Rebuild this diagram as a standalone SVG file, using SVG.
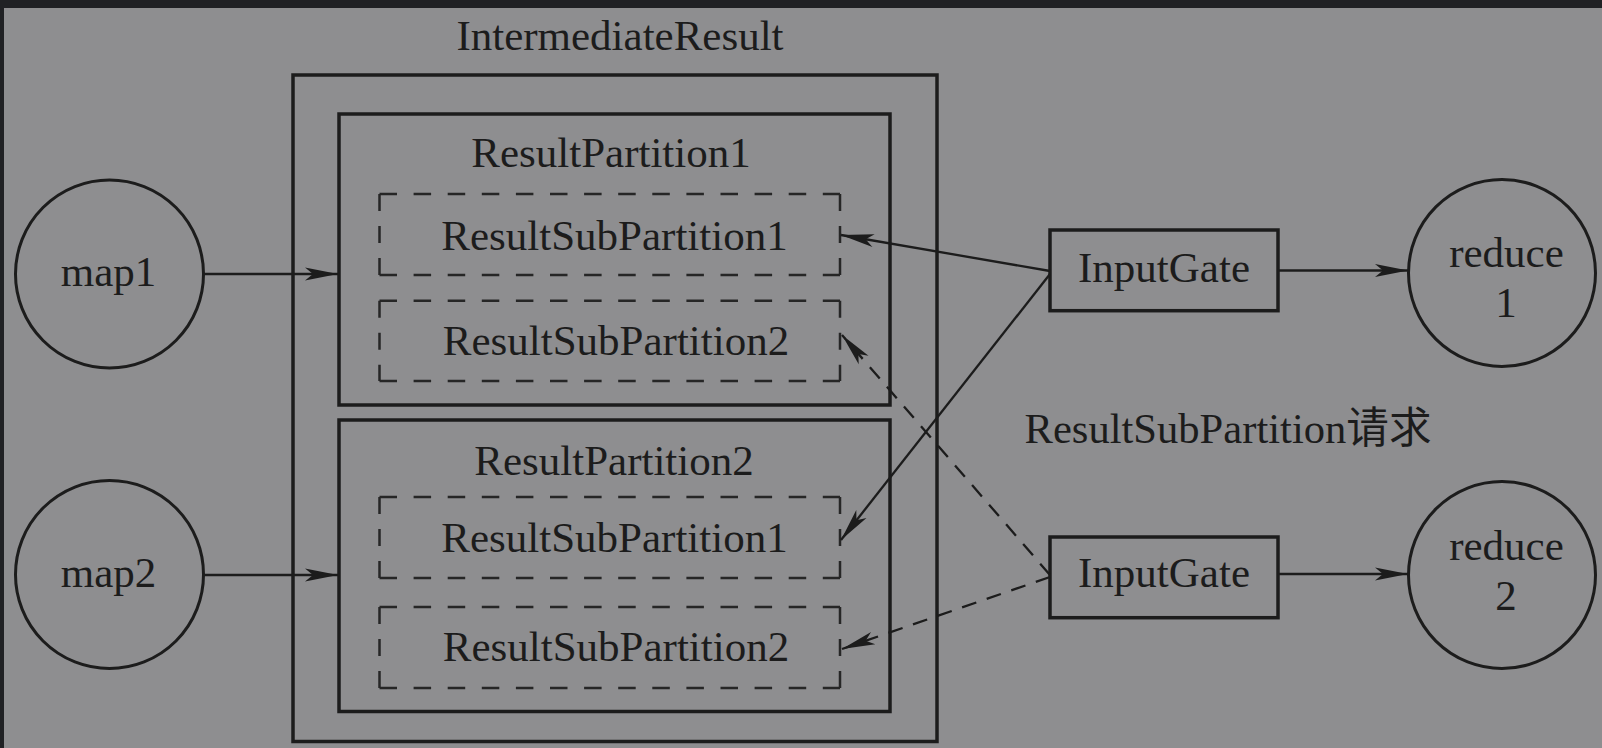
<svg xmlns="http://www.w3.org/2000/svg" width="1602" height="748" viewBox="0 0 1602 748">
<style>
text{font-family:"Liberation Serif","Noto Sans CJK SC",serif;font-size:43px;fill:#1c1c1c;text-anchor:middle}
.box{fill:none;stroke:#1c1c1c;stroke-width:3.5}
.circ{fill:none;stroke:#1c1c1c;stroke-width:3}
.dh{stroke:#262626;stroke-width:2.5;stroke-dasharray:17.5 16.6}
.dv{stroke:#262626;stroke-width:2.5;stroke-dasharray:17 15}
.con{fill:none;stroke:#1c1c1c;stroke-width:2.3;marker-end:url(#ah)}
.dash{stroke-dasharray:15 11}
</style>
<defs>
<marker id="ah" viewBox="-36 -8 38 16" refX="0" refY="0" markerWidth="38" markerHeight="16" markerUnits="userSpaceOnUse" orient="auto">
<path d="M0,0 L-33,-6.5 L-25,0 L-33,6.5 Z" fill="#1c1c1c"/>
</marker>
</defs>
<rect x="0" y="0" width="1602" height="748" fill="#202124"/>
<rect x="4" y="8" width="1598" height="740" fill="#8e8e90"/>

<g id="intermediate-result">
<rect class="box" x="293" y="75" width="644" height="666.5"/>
<text x="620" y="50">IntermediateResult</text>
</g>

<g id="result-partition-1">
<rect class="box" x="339" y="114" width="551" height="291"/>
<text x="611" y="166.7">ResultPartition1</text>
</g>
<g id="rp1-sub1">
<line class="dh" x1="379.5" y1="194" x2="840" y2="194"/>
<line class="dh" x1="379.5" y1="275" x2="840" y2="275"/>
<line class="dv" x1="379.5" y1="194" x2="379.5" y2="275"/>
<line class="dv" x1="840" y1="194" x2="840" y2="275"/>
<text x="614.5" y="249.5">ResultSubPartition1</text>
</g>
<g id="rp1-sub2">
<line class="dh" x1="379.5" y1="300.7" x2="840" y2="300.7"/>
<line class="dh" x1="379.5" y1="381" x2="840" y2="381"/>
<line class="dv" x1="379.5" y1="300.7" x2="379.5" y2="381"/>
<line class="dv" x1="840" y1="300.7" x2="840" y2="381"/>
<text x="616" y="355">ResultSubPartition2</text>
</g>

<g id="result-partition-2">
<rect class="box" x="339" y="420" width="551" height="291.5"/>
<text x="614" y="475">ResultPartition2</text>
</g>
<g id="rp2-sub1">
<line class="dh" x1="379.5" y1="497" x2="840" y2="497"/>
<line class="dh" x1="379.5" y1="578" x2="840" y2="578"/>
<line class="dv" x1="379.5" y1="497" x2="379.5" y2="578"/>
<line class="dv" x1="840" y1="497" x2="840" y2="578"/>
<text x="614.5" y="552">ResultSubPartition1</text>
</g>
<g id="rp2-sub2">
<line class="dh" x1="379.5" y1="607" x2="840" y2="607"/>
<line class="dh" x1="379.5" y1="688" x2="840" y2="688"/>
<line class="dv" x1="379.5" y1="607" x2="379.5" y2="688"/>
<line class="dv" x1="840" y1="607" x2="840" y2="688"/>
<text x="616" y="661">ResultSubPartition2</text>
</g>

<g id="map1">
<circle class="circ" cx="109.5" cy="274" r="94"/>
<text x="108.5" y="286">map1</text>
</g>
<g id="map2">
<circle class="circ" cx="109.5" cy="574.5" r="94"/>
<text x="108.5" y="586.7">map2</text>
</g>

<g id="inputgate-1">
<rect class="box" x="1050" y="230" width="228" height="80.7"/>
<text x="1164" y="282">InputGate</text>
</g>
<g id="inputgate-2">
<rect class="box" x="1050" y="537" width="228" height="80.7"/>
<text x="1164" y="587">InputGate</text>
</g>

<g id="reduce1">
<circle class="circ" cx="1502" cy="273" r="93.5"/>
<text x="1506.5" y="267">reduce</text>
<text x="1506" y="317">1</text>
</g>
<g id="reduce2">
<circle class="circ" cx="1502" cy="575" r="93.5"/>
<text x="1506.5" y="560">reduce</text>
<text x="1506" y="610">2</text>
</g>

<g id="request-label">
<text x="1228" y="443" textLength="407" lengthAdjust="spacingAndGlyphs">ResultSubPartition请求</text>
</g>

<g id="connectors">
<line class="con" x1="204" y1="274" x2="338" y2="274"/>
<line class="con" x1="204" y1="575" x2="338" y2="575"/>
<line class="con" x1="1050" y1="271" x2="841" y2="235"/>
<line class="con" x1="1050" y1="274" x2="841" y2="540"/>
<line class="con dash" x1="1050" y1="575" x2="842" y2="335"/>
<line class="con dash" x1="1050" y1="577" x2="842" y2="649"/>
<line class="con" x1="1278" y1="270.5" x2="1408" y2="270.5"/>
<line class="con" x1="1278" y1="574" x2="1408" y2="574"/>
</g>
</svg>
